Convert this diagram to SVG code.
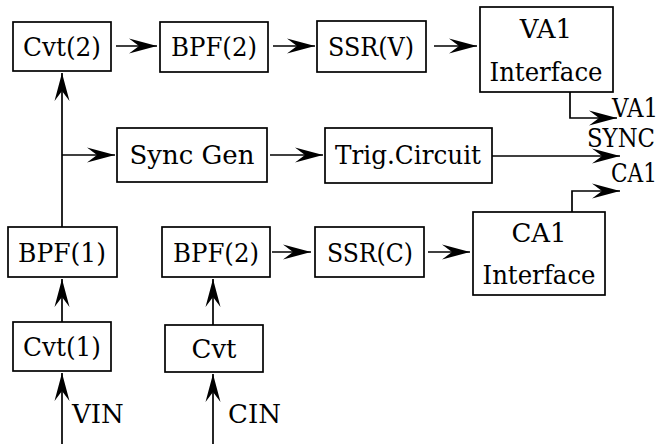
<svg xmlns="http://www.w3.org/2000/svg" width="663" height="444" viewBox="0 0 663 444">
<style>
.b{fill:#fff;stroke:#000;stroke-width:1.7}
.t{font-family:"DejaVu Serif","Liberation Serif",serif;font-size:26px;fill:#000;text-anchor:middle}
.l{font-family:"DejaVu Serif","Liberation Serif",serif;font-size:26px;fill:#000}
.c{fill:none;stroke:#000;stroke-width:1.7}
</style>
<defs>
<marker id="a" markerUnits="userSpaceOnUse" markerWidth="32" markerHeight="18" viewBox="-2 -9 32 18" refX="28" refY="0" orient="auto">
<path d="M0,-7.5 L28,0 L0,7.5 L10,0 z" fill="#000"/>
</marker>
</defs>
<rect width="663" height="444" fill="#fff"/>
<g id="cvt2"><rect class="b" x="13" y="22" width="98" height="49"/><text class="t" x="62" y="56" textLength="78" lengthAdjust="spacingAndGlyphs">Cvt(2)</text></g>
<g id="bpf2top"><rect class="b" x="160" y="22" width="108" height="50"/><text class="t" x="214" y="56" textLength="86" lengthAdjust="spacingAndGlyphs">BPF(2)</text></g>
<g id="ssrv"><rect class="b" x="317" y="21" width="109" height="51"/><text class="t" x="371" y="56" textLength="86" lengthAdjust="spacingAndGlyphs">SSR(V)</text></g>
<g id="va1"><rect class="b" x="480" y="7" width="133" height="85"/><text class="t" x="546" y="38">VA1</text><text class="t" x="546" y="81" textLength="113" lengthAdjust="spacingAndGlyphs">Interface</text></g>
<g id="syncgen"><rect class="b" x="117" y="128" width="150" height="54"/><text class="t" x="192" y="164" textLength="125" lengthAdjust="spacingAndGlyphs">Sync Gen</text></g>
<g id="trig"><rect class="b" x="325" y="128" width="167" height="55"/><text class="t" x="408" y="164" textLength="146" lengthAdjust="spacingAndGlyphs">Trig.Circuit</text></g>
<g id="bpf1"><rect class="b" x="8" y="227" width="109" height="50"/><text class="t" x="62" y="262" textLength="88" lengthAdjust="spacingAndGlyphs">BPF(1)</text></g>
<g id="bpf2low"><rect class="b" x="162" y="227" width="108" height="50"/><text class="t" x="216" y="262" textLength="86" lengthAdjust="spacingAndGlyphs">BPF(2)</text></g>
<g id="ssrc"><rect class="b" x="315" y="227" width="109" height="50"/><text class="t" x="370" y="262" textLength="86" lengthAdjust="spacingAndGlyphs">SSR(C)</text></g>
<g id="ca1"><rect class="b" x="473" y="212" width="132" height="83"/><text class="t" x="539" y="242">CA1</text><text class="t" x="539" y="284" textLength="113" lengthAdjust="spacingAndGlyphs">Interface</text></g>
<g id="cvt1"><rect class="b" x="13" y="322" width="98" height="49"/><text class="t" x="62" y="356" textLength="78" lengthAdjust="spacingAndGlyphs">Cvt(1)</text></g>
<g id="cvt"><rect class="b" x="165" y="325" width="98" height="47"/><text class="t" x="214" y="358">Cvt</text></g>
<g id="connectors">
<path class="c" d="M116,46 H157" marker-end="url(#a)"/>
<path class="c" d="M273,46 H315" marker-end="url(#a)"/>
<path class="c" d="M434,46 H477" marker-end="url(#a)"/>
<path class="c" d="M570,92 V118 H617" marker-end="url(#a)"/>
<path class="c" d="M62,227 V73" marker-end="url(#a)"/>
<path class="c" d="M62,155 H115" marker-end="url(#a)"/>
<path class="c" d="M270,155 H323" marker-end="url(#a)"/>
<path class="c" d="M492,156 H620" marker-end="url(#a)"/>
<path class="c" d="M572,212 V191 H620" marker-end="url(#a)"/>
<path class="c" d="M272,252 H311" marker-end="url(#a)"/>
<path class="c" d="M428,252 H470" marker-end="url(#a)"/>
<path class="c" d="M62,322 V279" marker-end="url(#a)"/>
<path class="c" d="M213,325 V279" marker-end="url(#a)"/>
<path class="c" d="M62,444 V373" marker-end="url(#a)"/>
<path class="c" d="M213,444 V374" marker-end="url(#a)"/>
</g>
<text class="l" x="612" y="117" textLength="46" lengthAdjust="spacingAndGlyphs">VA1</text>
<text class="l" x="587" y="147" textLength="68" lengthAdjust="spacingAndGlyphs">SYNC</text>
<text class="l" x="611" y="182" textLength="46" lengthAdjust="spacingAndGlyphs">CA1</text>
<text class="l" x="72" y="423">VIN</text>
<text class="l" x="228" y="423">CIN</text>
</svg>
